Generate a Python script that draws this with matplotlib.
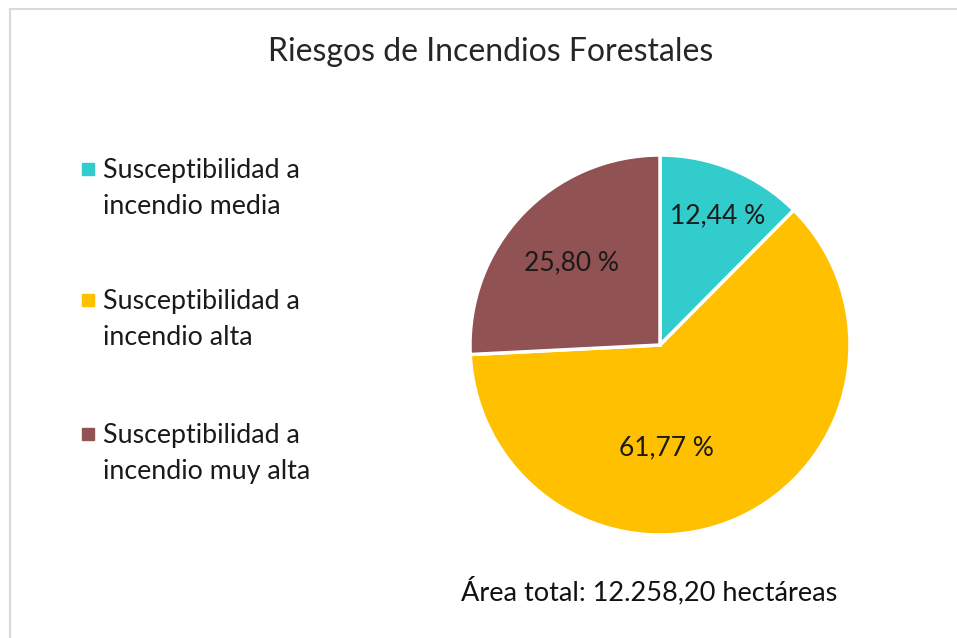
import matplotlib.pyplot as plt
from matplotlib.lines import Line2D

W, H = 957, 638

categorias = ["Susceptibilidad a\nincendio media",
              "Susceptibilidad a\nincendio alta",
              "Susceptibilidad a\nincendio muy alta"]
porcentajes = [12.44, 61.77, 25.80]
colores = ["#33CCCC", "#FFC000", "#905252"]
titulo = "Riesgos de Incendios Forestales"
nota = "Área total: 12.258,20 hectáreas"

plt.rcParams['font.family'] = ['Lato', 'DejaVu Sans']

fig = plt.figure(figsize=(W / 100, H / 100), dpi=100)

# marco gris del grafico (solo se ven arriba e izquierda)
fig.add_artist(Line2D([9.5 / W, 1], [1 - 8.5 / H, 1 - 8.5 / H], color="#D9D9D9", lw=1.5))
fig.add_artist(Line2D([9.5 / W, 9.5 / W], [0, 1 - 8.5 / H], color="#D9D9D9", lw=1.5))

# tarta: centro (660, 345) px, radio 190 px
cx, cy, r = 660, 345, 190
ax = fig.add_axes([(cx - r) / W, 1 - (cy + r) / H, 2 * r / W, 2 * r / H])
wedges, _ = ax.pie(porcentajes, colors=colores, startangle=90, counterclock=False,
                   radius=1, wedgeprops=dict(edgecolor="white", linewidth=2.5))
ax.set_xlim(-1, 1)
ax.set_ylim(-1, 1)
ax.set_aspect("equal")
ax.axis("off")

# etiquetas de porcentaje
pos_etiquetas = [(718, 216), (666, 448), (571, 263)]
for p, (px, py) in zip(porcentajes, pos_etiquetas):
    txt = "{:.2f} %".format(p).replace(".", ",")
    fig.text(px / W, 1 - py / H, txt, ha="center", va="center", fontsize=19, color="#1a1a1a")

fig.text(491 / W, 1 - 52 / H, titulo, ha="center", va="center", fontsize=23,
         color="#262626")
fig.text(649 / W, 1 - 591 / H, nota, ha="center", va="center", fontsize=19.5, color="#111111")

# leyenda a mano
ley_y = [189, 320, 454]
for lab, col, yy in zip(categorias, colores, ley_y):
    fig.add_artist(plt.Rectangle((82 / W, 1 - (yy - 14) / H), 12 / W, 12 / H, color=col))
    fig.text(103 / W, 1 - yy / H, lab, ha="left", va="center", fontsize=19.3,
             color="#1a1a1a", linespacing=1.55)

fig.savefig("out.png", dpi=100, facecolor="white")
